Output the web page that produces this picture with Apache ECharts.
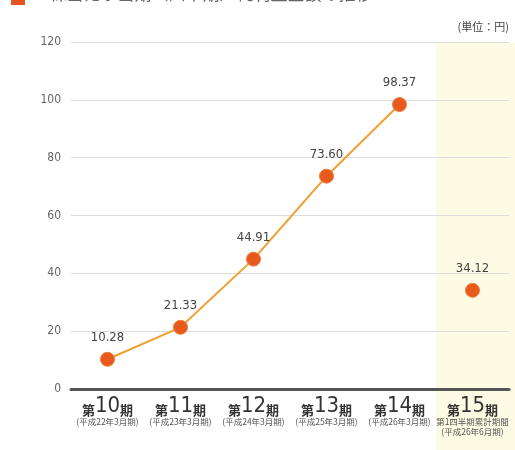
<!DOCTYPE html>
<html>
<head>
<meta charset="utf-8">
<script src="https://cdn.jsdelivr.net/npm/echarts@6/dist/echarts.min.js"></script>
<style>
  html, body { margin: 0; padding: 0; background: #fff; }
  #chart { width: 515px; height: 450px; }
</style>
</head>
<body>
<div id="chart"></div>
<script>
// 期ごとの1株当たり純利益（円）
const periodNumbers = ['10', '11', '12', '13', '14', '15'];
const categories = ['第10期', '第11期', '第12期', '第13期', '第14期', '第15期'];
const periodNotes = [
  '(平成22年3月期)',
  '(平成23年3月期)',
  '(平成24年3月期)',
  '(平成25年3月期)',
  '(平成26年3月期)',
  '第1四半期累計期間\n(平成26年6月期)'
];
const annualValues = [10.28, 21.33, 44.91, 73.60, 98.37, null];
const quarterValues = [null, null, null, null, null, 34.12];
const yTicks = { min: 0, max: 120, interval: 20 };

const NARROW = '"DejaVu Sans Condensed", "Liberation Sans Narrow", sans-serif';
const JP = '"Noto Sans CJK JP", sans-serif';

const chart = echarts.init(document.getElementById('chart'));

const valueLabel = {
  show: true,
  position: 'top',
  distance: 8,
  fontFamily: NARROW,
  fontSize: 13,
  color: '#444',
  formatter: p => p.value.toFixed(2)
};

chart.setOption({
  animation: false,
  grid: { left: 71, right: 6, top: 42, bottom: 61 },
  xAxis: {
    type: 'category',
    data: categories,
    boundaryGap: true,
    axisLine: { lineStyle: { color: '#555', width: 3 } },
    axisTick: { show: false },
    axisLabel: {
      margin: 8,
      interval: 0,
      formatter: (val, idx) => {
        const notes = periodNotes[idx].split('\n').map(s => '{s|' + s + '}').join('\n');
        return '{a|第}{n|' + periodNumbers[idx] + '}{a|期}\n' + notes;
      },
      rich: {
        a: { fontFamily: JP, fontSize: 13, fontWeight: 'bold', color: '#333', lineHeight: 20, verticalAlign: 'bottom' },
        n: { fontFamily: NARROW, fontSize: 22, color: '#333', lineHeight: 20, verticalAlign: 'bottom' },
        s: { fontFamily: JP, fontSize: 8.5, color: '#555', lineHeight: 10 }
      }
    }
  },
  yAxis: {
    type: 'value',
    min: yTicks.min,
    max: yTicks.max,
    interval: yTicks.interval,
    axisLine: { show: false },
    axisTick: { show: false },
    axisLabel: { fontFamily: NARROW, fontSize: 12, color: '#666', margin: 10 },
    splitLine: { lineStyle: { color: '#dcdcdc', width: 1 } }
  },
  series: [
    {
      type: 'line',
      data: annualValues,
      symbol: 'circle',
      symbolSize: 14,
      lineStyle: { color: '#f0a030', width: 2 },
      itemStyle: { color: '#e85a1c', borderColor: '#ef7a3a', borderWidth: 1 },
      label: valueLabel,
      z: 3
    },
    {
      type: 'line',
      data: quarterValues,
      symbol: 'circle',
      symbolSize: 14,
      lineStyle: { width: 0 },
      itemStyle: { color: '#e85a1c', borderColor: '#ef7a3a', borderWidth: 1 },
      label: valueLabel,
      z: 3
    }
  ]
});

// 第15期（四半期）の背景帯と見出し
const bandLeft = chart.convertToPixel({ xAxisIndex: 0 }, categories.length - 1)
  - (chart.convertToPixel({ xAxisIndex: 0 }, 1) - chart.convertToPixel({ xAxisIndex: 0 }, 0)) / 2;
const plotTop = chart.convertToPixel({ yAxisIndex: 0 }, yTicks.max);

chart.setOption({
  graphic: [
    {
      type: 'rect',
      z: -10,
      silent: true,
      shape: { x: bandLeft, y: plotTop + 1, width: 515 - bandLeft, height: 450 - plotTop },
      style: { fill: '#fdfbe3' }
    },
    {
      type: 'rect',
      left: 11, top: -7,
      shape: { width: 14, height: 12 },
      style: { fill: '#e5531e' }
    },
    {
      type: 'text',
      left: 40, top: -15,
      style: {
        text: '1株当たり当期（四半期）純利益金額の推移',
        font: '17px "Noto Sans CJK JP", sans-serif',
        fill: '#666'
      }
    },
    {
      type: 'text',
      right: 6, top: 21,
      style: {
        text: '(単位：円)',
        font: '11px "Noto Sans CJK JP", sans-serif',
        fill: '#444'
      }
    }
  ]
});
</script>
</body>
</html>
